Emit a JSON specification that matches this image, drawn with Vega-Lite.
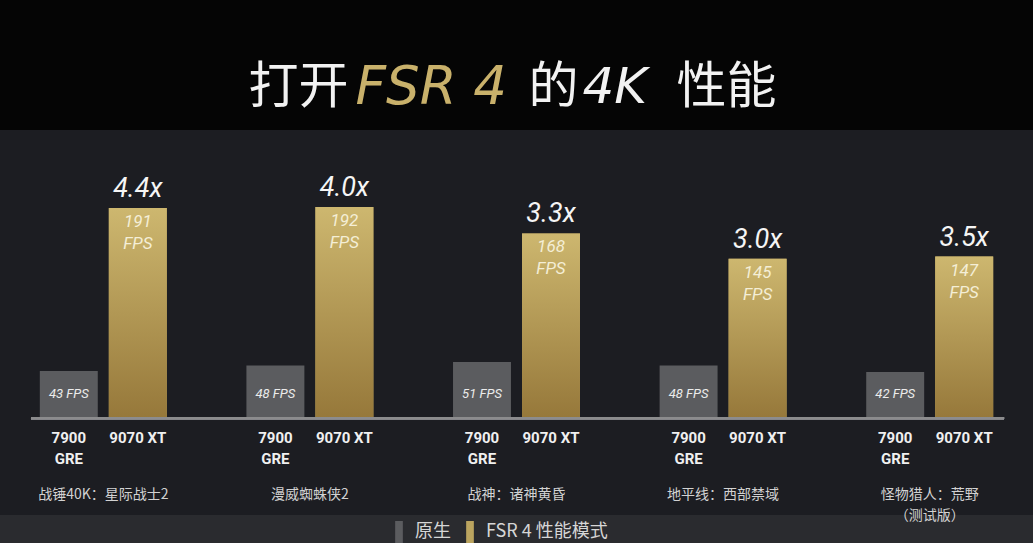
{
  "$schema": "https://vega.github.io/schema/vega-lite/v6.json",
  "background": "#2a2b2f",
  "padding": 0,
  "spacing": 0,
  "bounds": "flush",
  "config": {
    "view": {"stroke": null},
    "font": "Roboto, 'Noto Sans CJK SC', sans-serif"
  },
  "vconcat": [
    {
      "width": 1033,
      "height": 130,
      "view": {"fill": "#050505", "stroke": null},
      "data": {"values": [{"part": "title"}]},
      "layer": [
        {"mark": {"type": "text", "text": "打开", "align": "left", "baseline": "middle", "dx": -268, "dy": 23, "fontSize": 50, "font": "Noto Sans CJK SC", "color": "#f2f2f2"}},
        {"mark": {"type": "text", "text": "FSR 4", "align": "left", "baseline": "middle", "dx": -161, "dy": 23, "fontSize": 53, "font": "DejaVu Sans", "fontStyle": "italic", "color": "#c9b16b"}},
        {"mark": {"type": "text", "text": "的", "align": "left", "baseline": "middle", "dx": 12, "dy": 23, "fontSize": 50, "font": "Noto Sans CJK SC", "color": "#f2f2f2"}},
        {"mark": {"type": "text", "text": "4K", "align": "left", "baseline": "middle", "dx": 66, "dy": 23, "fontSize": 50, "font": "DejaVu Sans", "fontStyle": "italic", "color": "#f2f2f2"}},
        {"mark": {"type": "text", "text": "性能", "align": "left", "baseline": "middle", "dx": 160, "dy": 23, "fontSize": 50, "font": "Noto Sans CJK SC", "color": "#f2f2f2"}}
      ]
    },
    {
      "width": 1033,
      "height": 385,
      "view": {"fill": "#1c1d22", "stroke": null},
      "data": {
        "values": [
          {"game": "战锤40K：星际战士2", "series": "原生", "gpu": "7900 GRE", "fps": 43},
          {"game": "战锤40K：星际战士2", "series": "FSR 4 性能模式", "gpu": "9070 XT", "fps": 191, "mult": 4.4},
          {"game": "漫威蜘蛛侠2", "series": "原生", "gpu": "7900 GRE", "fps": 48},
          {"game": "漫威蜘蛛侠2", "series": "FSR 4 性能模式", "gpu": "9070 XT", "fps": 192, "mult": 4.0},
          {"game": "战神：诸神黄昏", "series": "原生", "gpu": "7900 GRE", "fps": 51},
          {"game": "战神：诸神黄昏", "series": "FSR 4 性能模式", "gpu": "9070 XT", "fps": 168, "mult": 3.3},
          {"game": "地平线：西部禁域", "series": "原生", "gpu": "7900 GRE", "fps": 48},
          {"game": "地平线：西部禁域", "series": "FSR 4 性能模式", "gpu": "9070 XT", "fps": 145, "mult": 3.0},
          {"game": "怪物猎人：荒野\n（测试版）", "series": "原生", "gpu": "7900 GRE", "fps": 42},
          {"game": "怪物猎人：荒野\n（测试版）", "series": "FSR 4 性能模式", "gpu": "9070 XT", "fps": 147, "mult": 3.5}
        ]
      },
      "layer": [
        {
          "mark": {"type": "bar"},
          "encoding": {
            "x": {
              "field": "game", "type": "nominal", "sort": null, "title": null,
              "scale": {"paddingInner": 0, "paddingOuter": 0},
              "axis": {
                "orient": "bottom", "offset": -28, "domain": false, "ticks": false,
                "labelPadding": 0, "labelAngle": 0, "labelFontSize": 14,
                "labelColor": "#d2d2d2", "labelFont": "Noto Sans CJK SC",
                "labelLineHeight": 21, "labelBaseline": "top",
                "labelExpr": "split(datum.label, '\\n')"
              }
            },
            "xOffset": {
              "field": "series", "type": "nominal",
              "scale": {"domain": ["原生", "FSR 4 性能模式"], "paddingInner": 0.16, "paddingOuter": 0.577}
            },
            "y": {
              "field": "fps", "type": "quantitative", "axis": null,
              "scale": {"domain": [-88, 262], "nice": false, "zero": false}
            },
            "y2": {"datum": 0},
            "color": {
              "field": "series", "type": "nominal",
              "scale": {"domain": ["原生", "FSR 4 性能模式"], "range": ["#5b5c5f", "#bba45f"]},
              "legend": {
                "title": null, "orient": "none", "direction": "horizontal",
                "legendX": 388, "legendY": 521,
                "labelFontSize": 18, "labelColor": "#d6d6d6", "labelFont": "Noto Sans CJK SC",
                "symbolType": "M-0.35,-1L0.35,-1L0.35,1L-0.35,1Z", "symbolSize": 484,
                "symbolStrokeWidth": 0, "columnPadding": 8, "labelOffset": 5,
                "padding": 0
              }
            }
          }
        },
        {
          "transform": [{"filter": "datum.series == 'FSR 4 性能模式'"}],
          "mark": {
            "type": "bar",
            "color": {
              "gradient": "linear", "x1": 0, "y1": 0, "x2": 0, "y2": 1,
              "stops": [{"offset": 0, "color": "#cdb76f"}, {"offset": 1, "color": "#96783a"}]
            }
          },
          "encoding": {
            "x": {"field": "game", "type": "nominal", "sort": null},
            "xOffset": {"field": "series", "type": "nominal"},
            "y": {"field": "fps", "type": "quantitative"},
            "y2": {"datum": 0}
          }
        },
        {
          "mark": {"type": "rule", "color": "#8c8c8e", "strokeWidth": 2},
          "encoding": {
            "y": {"datum": 0},
            "x": {"datum": "战锤40K：星际战士2", "type": "nominal", "bandPosition": 0.15},
            "x2": {"datum": "怪物猎人：荒野\n（测试版）", "bandPosition": 0.86}
          }
        },
        {
          "transform": [{"filter": "datum.series == '原生'"}],
          "mark": {"type": "text", "text": {"expr": "datum.fps + ' FPS'"}, "baseline": "middle", "dy": -24, "fontSize": 13, "fontStyle": "italic", "color": "#ececec"},
          "encoding": {
            "x": {"field": "game", "type": "nominal", "sort": null},
            "xOffset": {"field": "series", "type": "nominal"},
            "y": {"datum": 0}
          }
        },
        {
          "transform": [{"filter": "datum.series == 'FSR 4 性能模式'"}],
          "mark": {"type": "text", "text": {"expr": "[datum.fps + '', 'FPS']"}, "baseline": "top", "dy": 6, "lineHeight": 22, "fontSize": 17, "fontStyle": "italic", "color": "#f4eed6"},
          "encoding": {
            "x": {"field": "game", "type": "nominal", "sort": null},
            "xOffset": {"field": "series", "type": "nominal"},
            "y": {"field": "fps", "type": "quantitative"}
          }
        },
        {
          "transform": [{"filter": "datum.series == 'FSR 4 性能模式'"}],
          "mark": {"type": "text", "text": {"expr": "format(datum.mult, '.1f') + 'x'"}, "baseline": "alphabetic", "dy": -11, "fontSize": 27, "fontStyle": "italic", "color": "#f5f5f5"},
          "encoding": {
            "x": {"field": "game", "type": "nominal", "sort": null},
            "xOffset": {"field": "series", "type": "nominal"},
            "y": {"field": "fps", "type": "quantitative"}
          }
        },
        {
          "mark": {"type": "text", "text": {"expr": "datum.series == '原生' ? split(datum.gpu, ' ') : datum.gpu"}, "baseline": "top", "dy": 13, "lineHeight": 21, "fontSize": 15, "fontWeight": "bold", "color": "#f0f0f0"},
          "encoding": {
            "x": {"field": "game", "type": "nominal", "sort": null},
            "xOffset": {"field": "series", "type": "nominal"},
            "y": {"datum": 0}
          }
        }
      ]
    }
  ]
}
